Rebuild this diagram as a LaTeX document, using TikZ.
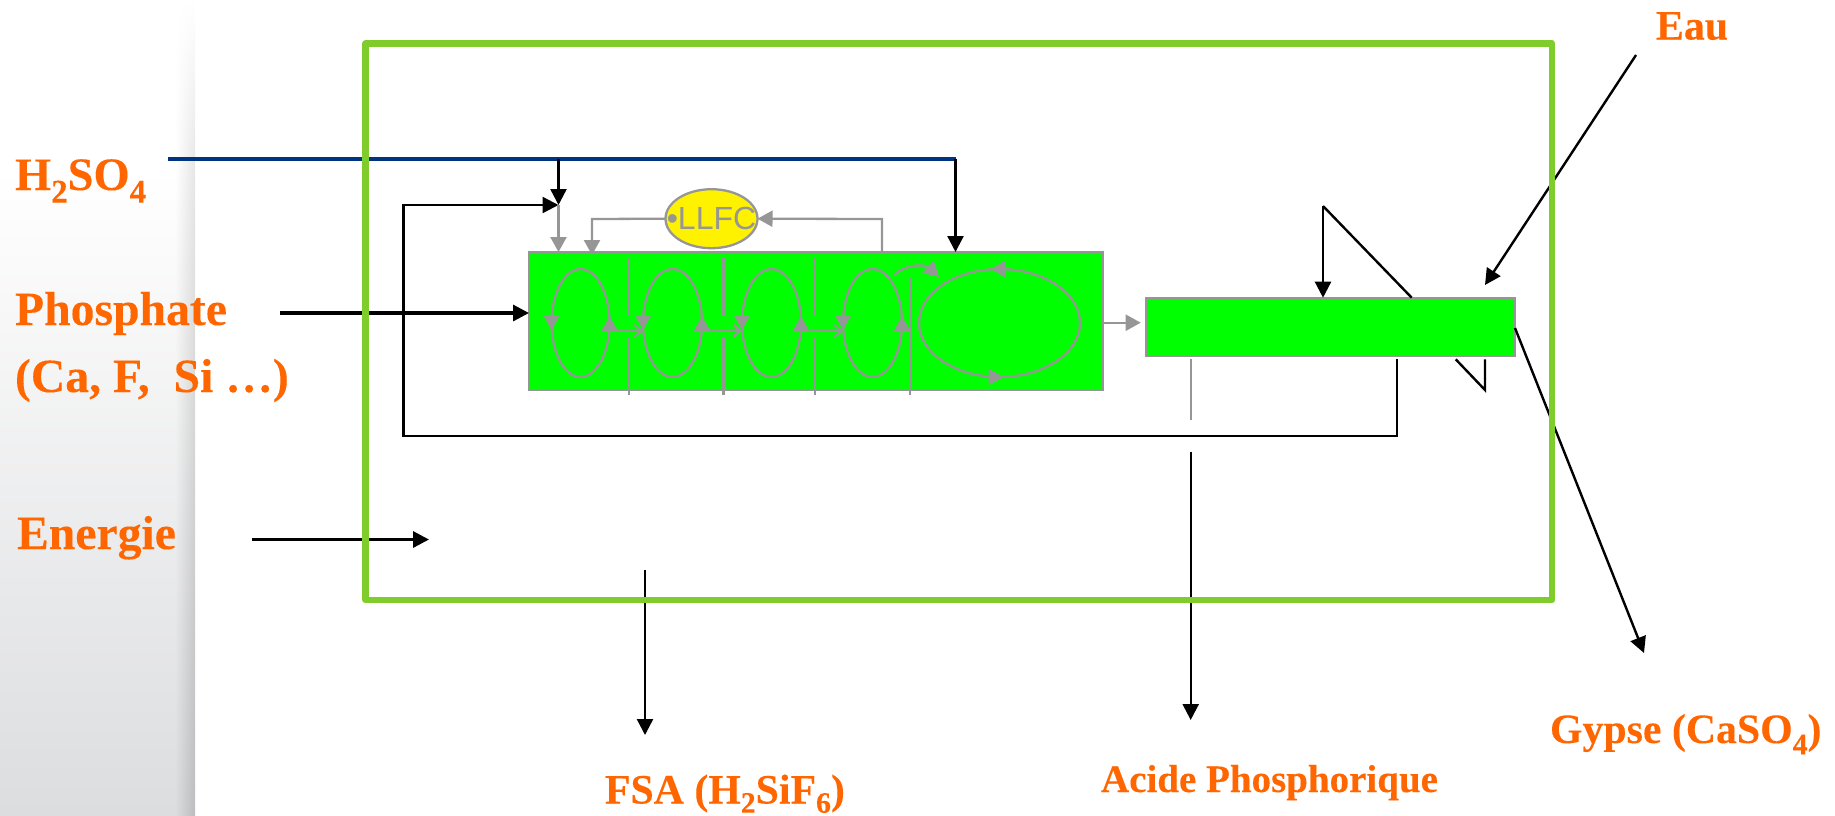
\documentclass[tikz,border=0pt]{standalone}
\usepackage{fontspec}
\setmainfont{Liberation Serif}[BoldFeatures={FakeBold=0.15}]
\setsansfont{Liberation Sans}
\usetikzlibrary{arrows.meta,shapes.geometric,calc}
\definecolor{orangeT}{HTML}{FF6600}
\definecolor{frameG}{HTML}{80CC2C}
\definecolor{tankG}{HTML}{00FF00}
\definecolor{lineB}{HTML}{003380}
\definecolor{lineG}{HTML}{969696}
\definecolor{sideC}{HTML}{DCDDDF}
\newcommand\sbs[1]{\raisebox{-.27em}{\scalebox{.71}{#1}}}
\newcommand\sbt[1]{\raisebox{-.22em}{\scalebox{.71}{#1}}}
\tikzset{
  bigl/.style={anchor=base west,inner sep=0pt,outer sep=0pt,text=orangeT,font=\fontsize{47.7}{50}\selectfont\bfseries},
  smalll/.style={anchor=base west,inner sep=0pt,outer sep=0pt,text=orangeT,font=\fontsize{41.8}{44}\selectfont\bfseries},
  tank/.style={draw=lineG,fill=tankG,line width=2.3pt,inner sep=0pt,outer sep=0pt},
  loope/.style={ellipse,draw=lineG,line width=2.3pt,inner sep=0pt,outer sep=0pt,minimum height=108pt},
  blk/.style={draw=black,line width=2.4pt},
  blkthick/.style={draw=black,line width=3.2pt},
  gry/.style={draw=lineG,line width=2.3pt},
  tipb/.style={-{Triangle[length=16pt,width=16pt]}},
  tipg/.style={-{Triangle[length=15pt,width=16pt]}},
  tipo/.style={-{Straight Barb[length=7pt,width=12pt]}},
}
\begin{document}
\begin{tikzpicture}[x=1pt,y=-1pt]
\useasboundingbox (0,0) rectangle (1835,815);
% side band
\fill[white] (0,0) rectangle (195,815);
\shade[top color=white,bottom color=sideC] (0,170) rectangle (176,815);
\foreach \i in {0,...,18}{
  \pgfmathsetmacro\xa{176+\i}
  \pgfmathsetmacro\xb{min(\xa+1.4,195)}
  \pgfmathsetmacro\pa{100-0.5*(\i+1)}
  \pgfmathsetmacro\pb{100-0.75*(\i+1)}
  \shade[top color=white,bottom color=white!\pa!black] (\xa,0) rectangle (\xb,170.5);
  \shade[top color=white!\pa!black,bottom color=sideC!\pb!black] (\xa,170) rectangle (\xb,815);
}
% nodes
\node[tank,minimum width=574pt,minimum height=138pt] (r1) at (816,321) {};
\node[tank,minimum width=369pt,minimum height=58pt] (r2) at (1330.5,326.7) {};
\node[ellipse,draw=lineG,fill=yellow,line width=2.3pt,inner sep=0pt,outer sep=0pt,minimum width=92pt,minimum height=59pt] (llfc) at (711.5,218.7) {};
\node[text=lineG,inner sep=0pt,font=\sffamily\fontsize{32}{32}\selectfont] (llfct) at (llfc.center) {•LLFC};
\node[loope,minimum width=58pt] (e1) at (580.5,323) {};
\node[loope,minimum width=59pt] (e2) at (672.5,323) {};
\node[loope,minimum width=59pt] (e3) at (771.5,323) {};
\node[loope,minimum width=59pt] (e4) at (872.5,323) {};
\node[loope,minimum width=161pt] (e5) at (999.5,323) {};
% labels
\node[bigl,font=\fontsize{46.5}{50}\selectfont\bfseries] (lh) at (15,190) {H\sbs{2}SO\sbs{4}};
\node[bigl] (lp) at (15,325) {Phosphate};
\node[bigl] (lc) at (15,392) {(Ca, F,\ \ Si …)};
\node[bigl] (le) at (17,549) {Energie};
\node[smalll] (leau) at (1656,39.5) {Eau};
\node[smalll] (lgy) at (1550,743) {Gypse (CaSO\sbs{4})};
\node[smalll,font=\fontsize{39}{42}\selectfont\bfseries] (lac) at (1101,792) {Acide Phosphorique};
\node[smalll] (lfs) at (605,803.5) {FSA (H\sbt{2}SiF\sbt{6})};
% free ends
\coordinate (hs) at (168,159);
\coordinate (hj) at (558.5,159);
\coordinate (he) at (955.5,159);
\coordinate (mix) at (558.5,205);
\coordinate (phs) at (280,313);
\coordinate (ens) at (252,539.5);
\coordinate (ene) at (429,539.5);
\coordinate (fb1) at (1396.7,359);
\coordinate (fb2) at (1396.7,436);
\coordinate (fb3) at (403.5,436);
\coordinate (fb4) at (403.5,205);
\coordinate (wa1) at (1636,55);
\coordinate (wa2) at (1485,285);
\coordinate (gy2) at (1644,653);
\coordinate (pk) at (1323,206);
\coordinate (v1) at (1455.7,359.3);
\coordinate (v2) at (1485,390);
\coordinate (v3) at (1485,359.3);
\coordinate (ac0) at (1190.7,359);
\coordinate (ac1) at (1190.7,420);
\coordinate (ac2) at (1190.7,451.7);
\coordinate (ac3) at (1190.7,720);
\coordinate (fs1) at (645,570);
\coordinate (fs2) at (645,735);
\coordinate (lg1) at (592,219);
\coordinate (lg2) at (882,219);
% black and blue lines
\draw[line width=4pt,draw=lineB] (hs) -- (he);
\draw[blk,tipb] (hj) -- (mix);
\draw[blk,tipb] (he) -- (he |- r1.north);
\draw[blk,tipb,line join=miter] (fb1) -- (fb2) -- (fb3) -- (fb4) -- (mix);
\draw[blkthick,tipb] (phs) -- (phs -| r1.west);
\draw[blkthick,tipb] (ens) -- (ene);
\draw[blk,tipb] (wa1) -- (wa2);
\draw[blk,tipb] (pk) -- (pk |- r2.north);
\draw[blk] (pk) -- (1411.7,297.7);
\draw[blk] (v1) -- (v2) -- (v3);
\draw[blk,tipb] (r2.east |- 0,328) -- (gy2);
\draw[blk,tipb] (ac2) -- (ac3);
\draw[blk,tipb] (fs1) -- (fs2);
% grey connectors
\draw[gry,tipg] (mix) -- (mix |- r1.north);
\draw[gry,tipg] (llfc.west) -- (lg1) -- ($(lg1 |- r1.north)+(0,3)$);
\draw[gry,tipg] (lg2 |- r1.north) -- (lg2) -- (llfc.east);
\draw[gry,tipg] (r1.east |- 0,322.7) -- (1140.7,322.7);
\draw[gry] (ac0) -- (ac1);
% baffles
\foreach \x in {629,723.4,815}{
  \draw[gry] (\x,257) -- (\x,315);
  \draw[gry] (\x,337) -- (\x,395);
}
\draw[gry] (910,278) -- (910,395);
% loop arrows
\foreach \n in {e1,e2,e3,e4}{
  \draw[gry,tipg] ($(\n.west)+(0,-7)$) -- ($(\n.west)+(0,7)$);
  \draw[gry,tipg] ($(\n.east)+(0,0)$) -- ($(\n.east)+(0,-7)$);
}
\draw[gry,tipo] (e1.east |- 0,330.7) -- (e2.west |- 0,330.7);
\draw[gry,tipo] (e2.east |- 0,330.7) -- (e3.west |- 0,330.7);
\draw[gry,tipo] (e3.east |- 0,330.7) -- (e4.west |- 0,330.7);
\draw[gry,tipg] (e5.north) ++(3,0) -- ++(-12,0);
\draw[gry,tipg] (e5.south) ++(-8,0) -- ++(12,0);
\draw[gry,tipg] (894,275) .. controls (905,264) and (925,264) .. (939,277);
% outer frame
\draw[draw=frameG,line width=6.5pt,line join=round] (365.7,43.5) rectangle (1552,600);
\end{tikzpicture}
\end{document}
